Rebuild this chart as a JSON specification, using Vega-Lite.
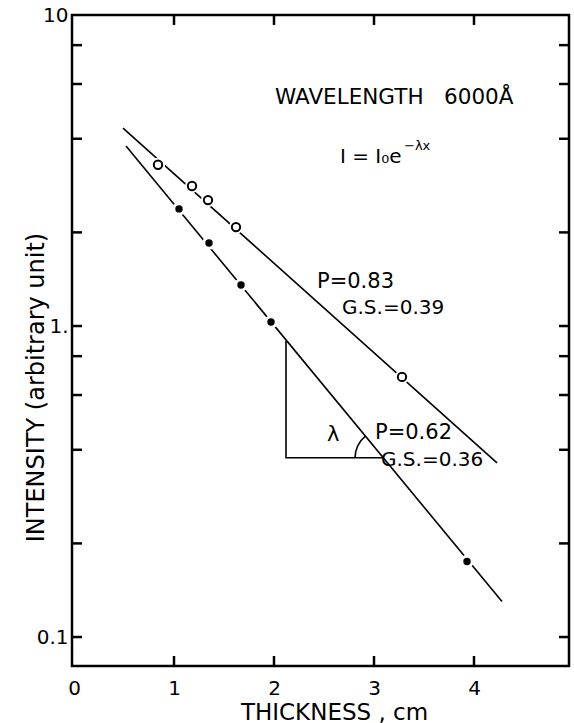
{
  "$schema": "https://vega.github.io/schema/vega-lite/v6.json",
  "autosize": "none",
  "width": 497,
  "height": 651,
  "padding": {"left": 72, "top": 15, "right": 5, "bottom": 57},
  "background": "white",
  "config": {
    "view": {"stroke": "black", "strokeWidth": 2.5, "fill": null},
    "font": "DejaVu Sans",
    "axis": {"grid": false, "domain": false, "ticks": false, "tickSize": 0, "offset": 0, "zindex": 2, "labelColor": "black", "titleColor": "black", "labelFont": "DejaVu Sans", "titleFont": "DejaVu Sans", "titleFontWeight": "normal"}
  },
  "datasets": {
    "open": [
      {"x": 0.84, "y": 3.30}, {"x": 1.18, "y": 2.82}, {"x": 1.34, "y": 2.54}, {"x": 1.62, "y": 2.08}, {"x": 3.28, "y": 0.686}
    ],
    "filled": [
      {"x": 1.05, "y": 2.38}, {"x": 1.35, "y": 1.85}, {"x": 1.67, "y": 1.355}, {"x": 1.97, "y": 1.03}, {"x": 3.93, "y": 0.175}
    ],
    "lines": [
      {"series": "open", "x": 0.49, "y": 4.33}, {"series": "open", "x": 4.23, "y": 0.363},
      {"series": "filled", "x": 0.52, "y": 3.79}, {"series": "filled", "x": 4.28, "y": 0.130},
      {"series": "tri", "x": 2.12, "y": 0.895}, {"series": "tri", "x": 2.12, "y": 0.377}, {"series": "tri", "x": 3.09, "y": 0.377},
      {"series": "arc", "x": 2.81, "y": 0.377}, {"series": "arc", "x": 2.817, "y": 0.394}, {"series": "arc", "x": 2.836, "y": 0.411}, {"series": "arc", "x": 2.869, "y": 0.428}, {"series": "arc", "x": 2.912, "y": 0.442}
    ],
    "ticks": [
      {"x": -0.02, "x2": 0.08, "y": 0.1, "y2": 0.1}, {"x": -0.02, "x2": 0.08, "y": 0.2, "y2": 0.2}, {"x": -0.02, "x2": 0.08, "y": 0.4, "y2": 0.4},
      {"x": -0.02, "x2": 0.08, "y": 0.6, "y2": 0.6}, {"x": -0.02, "x2": 0.08, "y": 0.8, "y2": 0.8}, {"x": -0.02, "x2": 0.08, "y": 1, "y2": 1},
      {"x": -0.02, "x2": 0.08, "y": 2, "y2": 2}, {"x": -0.02, "x2": 0.08, "y": 4, "y2": 4}, {"x": -0.02, "x2": 0.08, "y": 6, "y2": 6},
      {"x": -0.02, "x2": 0.08, "y": 8, "y2": 8},
      {"x": 4.85, "x2": 4.95, "y": 0.1, "y2": 0.1}, {"x": 4.85, "x2": 4.95, "y": 0.2, "y2": 0.2}, {"x": 4.85, "x2": 4.95, "y": 0.4, "y2": 0.4},
      {"x": 4.85, "x2": 4.95, "y": 0.6, "y2": 0.6}, {"x": 4.85, "x2": 4.95, "y": 0.8, "y2": 0.8}, {"x": 4.85, "x2": 4.95, "y": 1, "y2": 1},
      {"x": 4.85, "x2": 4.95, "y": 2, "y2": 2}, {"x": 4.85, "x2": 4.95, "y": 4, "y2": 4}, {"x": 4.85, "x2": 4.95, "y": 6, "y2": 6},
      {"x": 4.85, "x2": 4.95, "y": 8, "y2": 8},
      {"x": 1, "x2": 1, "y": 0.0807, "y2": 0.0869}, {"x": 2, "x2": 2, "y": 0.0807, "y2": 0.0869}, {"x": 3, "x2": 3, "y": 0.0807, "y2": 0.0869}, {"x": 4, "x2": 4, "y": 0.0807, "y2": 0.0869},
      {"x": 1, "x2": 1, "y": 10, "y2": 9.29}, {"x": 2, "x2": 2, "y": 10, "y2": 9.29}, {"x": 3, "x2": 3, "y": 10, "y2": 9.29}, {"x": 4, "x2": 4, "y": 10, "y2": 9.29}
    ],
    "texts": [
      {"x": 2.01, "y": 5.41, "label": "WAVELENGTH\u00a0\u00a0\u00a06000Å", "size": 21.5},
      {"x": 2.66, "y": 3.50, "label": "I = I₀e", "size": 20},
      {"x": 3.30, "y": 3.80, "label": "−λx", "size": 13},
      {"x": 2.43, "y": 1.385, "label": "P=0.83", "size": 21},
      {"x": 2.68, "y": 1.14, "label": "G.S.=0.39", "size": 20},
      {"x": 2.53, "y": 0.446, "label": "λ", "size": 21},
      {"x": 3.01, "y": 0.453, "label": "P=0.62", "size": 21},
      {"x": 3.07, "y": 0.371, "label": "G.S.=0.36", "size": 20}
    ]
  },
  "layer": [
    {
      "data": {"name": "lines"},
      "mark": {"type": "line", "color": "black", "strokeWidth": 1.6},
      "encoding": {
        "x": {"field": "x", "type": "quantitative", "scale": {"domain": [-0.02, 4.95], "nice": false, "zero": false},
              "axis": {"orient": "bottom", "values": [0, 1, 2, 3, 4], "format": "d", "labelPadding": 12, "labelFontSize": 20, "title": "THICKNESS , cm", "titleFontSize": 23, "titlePadding": 3, "titleX": 262}},
        "y": {"field": "y", "type": "quantitative", "scale": {"type": "log", "domain": [0.0807, 10], "nice": false},
              "axis": {"orient": "left", "values": [0.1, 1, 10], "labelPadding": 4, "labelFontSize": 20,
                       "labelExpr": "datum.value == 10 ? '10' : (datum.value == 1 ? '1.' : (datum.value == 0.1 ? '0.1' : ''))",
                       "title": "INTENSITY (arbitrary unit)", "titleFontSize": 24, "titleY": 372, "titleX": -29, "titleBaseline": "alphabetic"}},
        "detail": {"field": "series"},
        "order": {"field": "x"}
      }
    },
    {
      "data": {"name": "ticks"},
      "mark": {"type": "rule", "color": "black", "strokeWidth": 2.5},
      "encoding": {
        "x": {"field": "x", "type": "quantitative"},
        "x2": {"field": "x2"},
        "y": {"field": "y", "type": "quantitative"},
        "y2": {"field": "y2"}
      }
    },
    {
      "data": {"name": "open"},
      "mark": {"type": "point", "shape": "circle", "filled": true, "color": "white", "size": 200, "opacity": 1},
      "encoding": {
        "x": {"field": "x", "type": "quantitative"},
        "y": {"field": "y", "type": "quantitative"}
      }
    },
    {
      "data": {"name": "open"},
      "mark": {"type": "point", "shape": "circle", "filled": false, "color": "black", "strokeWidth": 2, "size": 70, "fill": "white", "fillOpacity": 1},
      "encoding": {
        "x": {"field": "x", "type": "quantitative"},
        "y": {"field": "y", "type": "quantitative"}
      }
    },
    {
      "data": {"name": "filled"},
      "mark": {"type": "point", "shape": "circle", "filled": true, "color": "white", "size": 180, "opacity": 1},
      "encoding": {
        "x": {"field": "x", "type": "quantitative"},
        "y": {"field": "y", "type": "quantitative"}
      }
    },
    {
      "data": {"name": "filled"},
      "mark": {"type": "point", "shape": "circle", "filled": true, "color": "black", "size": 55, "opacity": 1},
      "encoding": {
        "x": {"field": "x", "type": "quantitative"},
        "y": {"field": "y", "type": "quantitative"}
      }
    },
    {
      "data": {"name": "texts"},
      "mark": {"type": "text", "align": "left", "baseline": "middle", "color": "black", "font": "DejaVu Sans"},
      "encoding": {
        "x": {"field": "x", "type": "quantitative"},
        "y": {"field": "y", "type": "quantitative"},
        "text": {"field": "label"},
        "size": {"field": "size", "type": "quantitative", "scale": null}
      }
    }
  ]
}
